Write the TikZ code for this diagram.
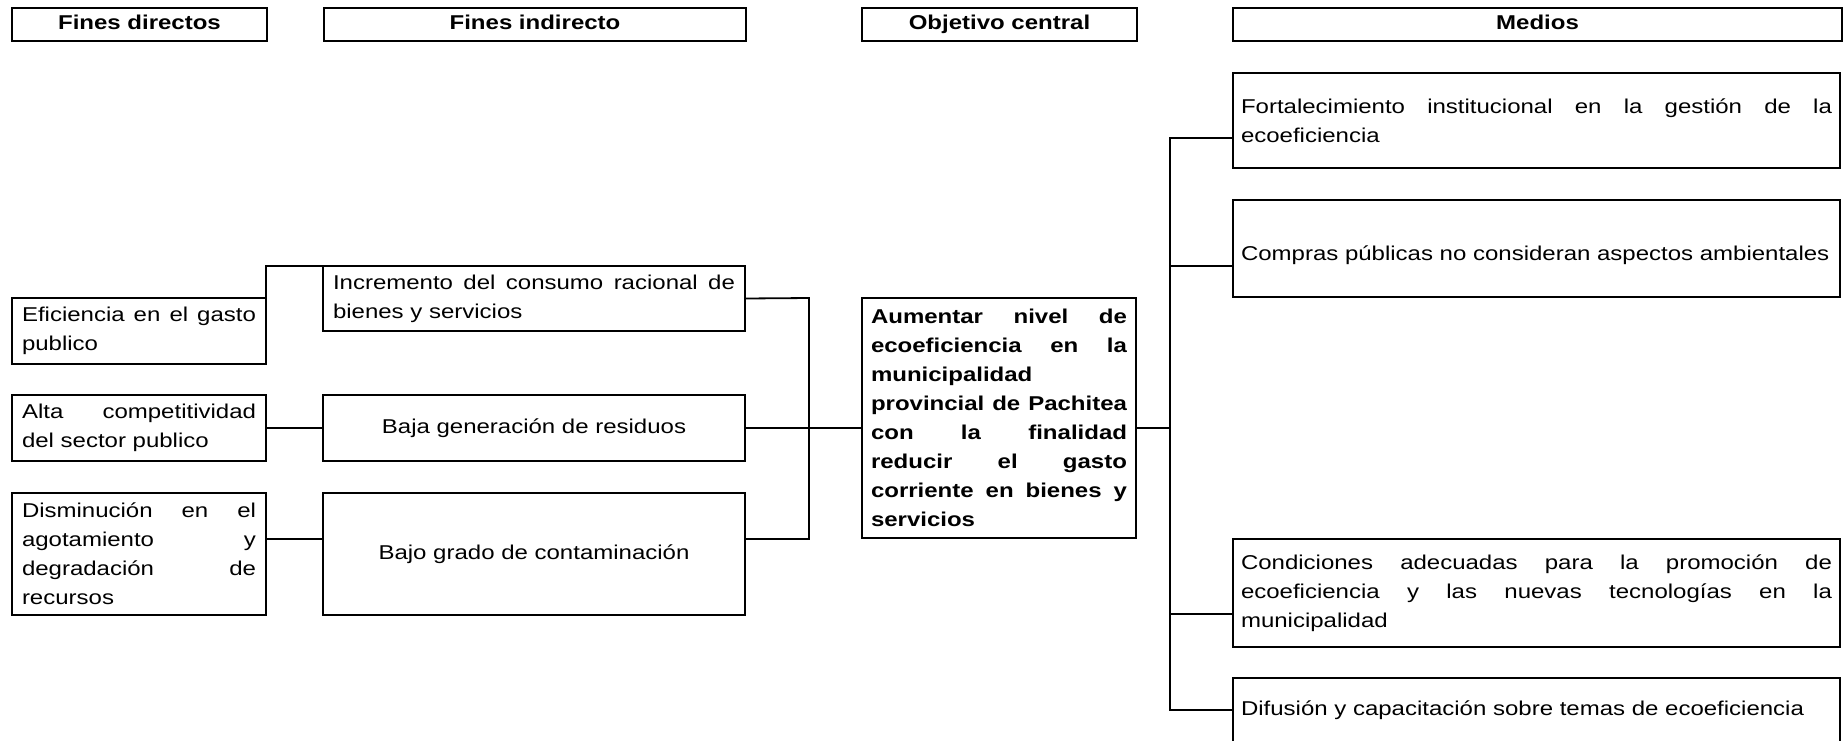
\documentclass[tikz,border=0pt]{standalone}
\usepackage{fontspec}
\setmainfont{Liberation Sans}[FakeStretch=1.2]

\begin{document}
\begin{tikzpicture}[x=1pt, y=-1pt,
    caja/.style={draw, line width=2.8pt, outer sep=0pt, anchor=north west, inner xsep=10pt, inner ysep=0pt, align=justify, font=\fontsize{20}{29}\selectfont, execute at begin node=\sloppy},
    titulo/.style={caja, align=center, text height=14pt, text depth=5pt, font=\fontsize{20}{29}\selectfont\bfseries},
    enlace/.style={line width=1.8pt}]
      \useasboundingbox (0,0) rectangle (1845,740);

      \node[titulo, minimum width=255pt, minimum height=33pt] (h1) at (12,8) {Fines directos};
      \node[titulo, minimum width=422pt, minimum height=33pt] (h2) at (324,8) {Fines indirecto};
      \node[titulo, minimum width=275pt, minimum height=33pt] (h3) at (862,8) {Objetivo central};
      \node[titulo, minimum width=609pt, minimum height=33pt] (h4) at (1233,8) {Medios};

      \node[caja, text width=234pt, minimum height=66pt] (efi) at (12,298) {Eficiencia en el gasto publico};
      \node[caja, text width=234pt, minimum height=66pt] (alta) at (12,395) {Alta competitividad\linebreak del sector publico};
      \node[caja, text width=234pt, minimum height=122pt] (dism) at (12,493) {Disminución en el\linebreak agotamiento y\linebreak degradación de\linebreak recursos};

      \node[caja, text width=402pt, minimum height=65pt] (incr) at (323,266) {Incremento del consumo racional de\linebreak bienes y servicios};
      \node[caja, text width=402pt, minimum height=66pt, align=center] (baja) at (323,395) {Baja generación de residuos};
      \node[caja, text width=402pt, minimum height=122pt, align=center] (bajo) at (323,493) {Bajo grado de contaminación};

      \node[caja, inner xsep=9pt, text width=256pt, minimum height=240pt, font=\fontsize{20}{29}\selectfont\bfseries] (obj) at (862,298) {Aumentar nivel de\linebreak ecoeficiencia en la\linebreak municipalidad\\ provincial de Pachitea\linebreak con la finalidad\linebreak reducir el gasto\linebreak corriente en bienes y\linebreak servicios};

      \node[caja, inner xsep=8pt, text width=591pt, minimum height=95pt] (fort) at (1233,73) {Fortalecimiento institucional en la gestión de la\linebreak ecoeficiencia};
      \node[caja, inner xsep=8pt, text width=591pt, minimum height=97pt] (comp) at (1233,200) {\mbox{}\\ Compras públicas no consideran aspectos ambientales};
      \node[caja, inner xsep=8pt, text width=591pt, minimum height=108pt] (cond) at (1233,539) {Condiciones adecuadas para la promoción de\linebreak ecoeficiencia y las nuevas tecnologías en la\linebreak municipalidad};
      \node[caja, inner xsep=8pt, text width=591pt, minimum height=64pt] (dif) at (1233,678) {Difusión y capacitación sobre temas de ecoeficiencia};

      % fines
      \coordinate (pdism) at ([yshift=15pt]dism.east);
      \coordinate (pbajo) at ([yshift=15pt]bajo.east);
      \coordinate (bizq) at (809,298);
      \draw[enlace] (efi.north east) |- (incr.north west);
      \draw[enlace] (alta.east) -- (baja.west);
      \draw[enlace] (pdism) -- (pdism -| bajo.west);
      \draw[enlace] (incr.east) -- (bizq) |- (pbajo);
      \draw[enlace] (baja.east) -- (baja.east -| obj.west);

      % medios
      \coordinate (pfort) at ([yshift=-17.5pt]fort.west);
      \coordinate (pcomp) at ([yshift=-17.5pt]comp.west);
      \coordinate (pcond) at ([yshift=-21pt]cond.west);
      \coordinate (bder) at (1170,138);
      \draw[enlace] (obj.east |- baja.east) -- (baja.east -| bder);
      \draw[enlace] (pfort) -| (dif.west -| bder) -- (dif.west);
      \draw[enlace] (pcomp) -- (pcomp -| bder);
      \draw[enlace] (pcond) -- (pcond -| bder);
    \end{tikzpicture}
\end{document}
